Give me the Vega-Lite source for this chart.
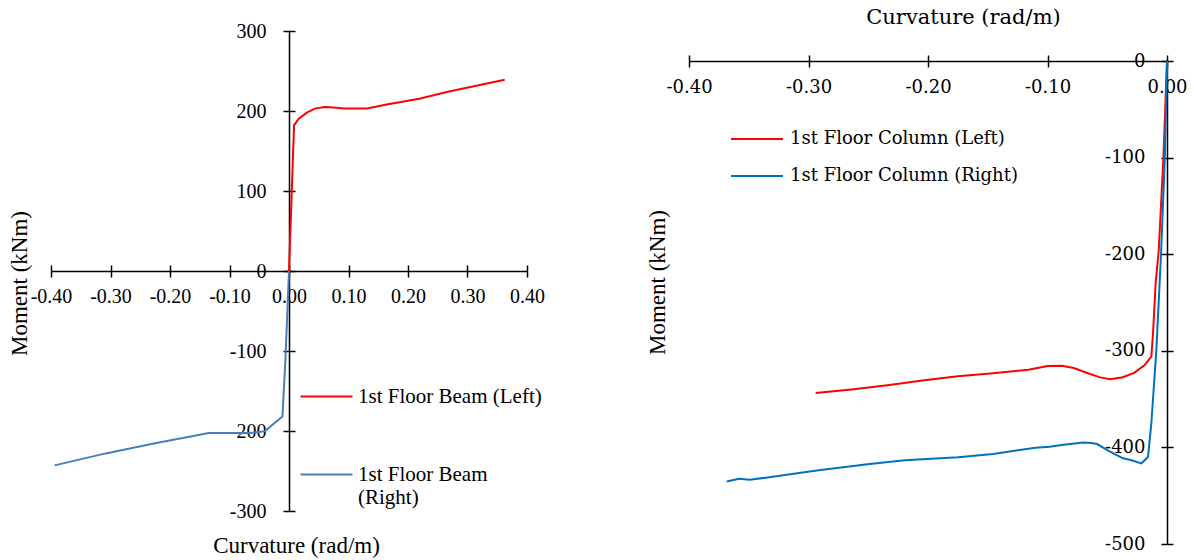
{
  "$schema": "https://vega.github.io/schema/vega-lite/v6.json",
  "width": 1194,
  "height": 560,
  "autosize": {"type": "fit", "contains": "padding"},
  "padding": 0,
  "background": "white",
  "config": {
    "view": {"stroke": null},
    "axis": {"grid": false, "domainColor": "black", "tickColor": "black", "labelColor": "black", "titleColor": "black", "domainWidth": 1.5, "tickWidth": 1.5, "labelFlush": false, "labelOverlap": false, "titleFontWeight": "normal", "titlePadding": 0}
  },
  "datasets": {
    "left": [
      {"series": "1st Floor Beam (Left)", "i": 0, "curvature": 0, "moment": 0},
      {"series": "1st Floor Beam (Left)", "i": 1, "curvature": 0.0085, "moment": 182},
      {"series": "1st Floor Beam (Left)", "i": 2, "curvature": 0.016, "moment": 190},
      {"series": "1st Floor Beam (Left)", "i": 3, "curvature": 0.03, "moment": 198},
      {"series": "1st Floor Beam (Left)", "i": 4, "curvature": 0.0435, "moment": 203},
      {"series": "1st Floor Beam (Left)", "i": 5, "curvature": 0.059, "moment": 205},
      {"series": "1st Floor Beam (Left)", "i": 6, "curvature": 0.075, "moment": 204.5},
      {"series": "1st Floor Beam (Left)", "i": 7, "curvature": 0.092, "moment": 203},
      {"series": "1st Floor Beam (Left)", "i": 8, "curvature": 0.131, "moment": 203},
      {"series": "1st Floor Beam (Left)", "i": 9, "curvature": 0.164, "moment": 208},
      {"series": "1st Floor Beam (Left)", "i": 10, "curvature": 0.219, "moment": 215.4},
      {"series": "1st Floor Beam (Left)", "i": 11, "curvature": 0.267, "moment": 224},
      {"series": "1st Floor Beam (Left)", "i": 12, "curvature": 0.3625, "moment": 239},
      {"series": "1st Floor Beam (Right)", "i": 0, "curvature": 0, "moment": 0},
      {"series": "1st Floor Beam (Right)", "i": 1, "curvature": -0.006, "moment": -110},
      {"series": "1st Floor Beam (Right)", "i": 2, "curvature": -0.011, "moment": -182},
      {"series": "1st Floor Beam (Right)", "i": 3, "curvature": -0.041, "moment": -200.4},
      {"series": "1st Floor Beam (Right)", "i": 4, "curvature": -0.065, "moment": -202.5},
      {"series": "1st Floor Beam (Right)", "i": 5, "curvature": -0.135, "moment": -202.5},
      {"series": "1st Floor Beam (Right)", "i": 6, "curvature": -0.15, "moment": -204.6},
      {"series": "1st Floor Beam (Right)", "i": 7, "curvature": -0.223, "moment": -215},
      {"series": "1st Floor Beam (Right)", "i": 8, "curvature": -0.308, "moment": -228},
      {"series": "1st Floor Beam (Right)", "i": 9, "curvature": -0.394, "moment": -243}
    ],
    "right": [
      {"series": "1st Floor Column (Left)", "i": 0, "curvature": 0, "moment": 0},
      {"series": "1st Floor Column (Left)", "i": 1, "curvature": -0.003, "moment": -100},
      {"series": "1st Floor Column (Left)", "i": 2, "curvature": -0.0069, "moment": -196},
      {"series": "1st Floor Column (Left)", "i": 3, "curvature": -0.0095, "moment": -230},
      {"series": "1st Floor Column (Left)", "i": 4, "curvature": -0.0117, "moment": -282},
      {"series": "1st Floor Column (Left)", "i": 5, "curvature": -0.0131, "moment": -306},
      {"series": "1st Floor Column (Left)", "i": 6, "curvature": -0.0187, "moment": -314.7},
      {"series": "1st Floor Column (Left)", "i": 7, "curvature": -0.0271, "moment": -322.6},
      {"series": "1st Floor Column (Left)", "i": 8, "curvature": -0.037, "moment": -327.4},
      {"series": "1st Floor Column (Left)", "i": 9, "curvature": -0.0474, "moment": -329.5},
      {"series": "1st Floor Column (Left)", "i": 10, "curvature": -0.056, "moment": -327.5},
      {"series": "1st Floor Column (Left)", "i": 11, "curvature": -0.0644, "moment": -324},
      {"series": "1st Floor Column (Left)", "i": 12, "curvature": -0.078, "moment": -317.8},
      {"series": "1st Floor Column (Left)", "i": 13, "curvature": -0.088, "moment": -315.4},
      {"series": "1st Floor Column (Left)", "i": 14, "curvature": -0.0998, "moment": -315.8},
      {"series": "1st Floor Column (Left)", "i": 15, "curvature": -0.116, "moment": -319.5},
      {"series": "1st Floor Column (Left)", "i": 16, "curvature": -0.1455, "moment": -323.3},
      {"series": "1st Floor Column (Left)", "i": 17, "curvature": -0.175, "moment": -326.4},
      {"series": "1st Floor Column (Left)", "i": 18, "curvature": -0.2046, "moment": -330.8},
      {"series": "1st Floor Column (Left)", "i": 19, "curvature": -0.234, "moment": -335.6},
      {"series": "1st Floor Column (Left)", "i": 20, "curvature": -0.264, "moment": -340},
      {"series": "1st Floor Column (Left)", "i": 21, "curvature": -0.294, "moment": -343.8},
      {"series": "1st Floor Column (Right)", "i": 0, "curvature": 0, "moment": 0},
      {"series": "1st Floor Column (Right)", "i": 1, "curvature": -0.0018, "moment": -100},
      {"series": "1st Floor Column (Right)", "i": 2, "curvature": -0.005, "moment": -200},
      {"series": "1st Floor Column (Right)", "i": 3, "curvature": -0.0089, "moment": -299},
      {"series": "1st Floor Column (Right)", "i": 4, "curvature": -0.0131, "moment": -375},
      {"series": "1st Floor Column (Right)", "i": 5, "curvature": -0.0159, "moment": -410},
      {"series": "1st Floor Column (Right)", "i": 6, "curvature": -0.0214, "moment": -416.5},
      {"series": "1st Floor Column (Right)", "i": 7, "curvature": -0.0304, "moment": -413},
      {"series": "1st Floor Column (Right)", "i": 8, "curvature": -0.0368, "moment": -411.3},
      {"series": "1st Floor Column (Right)", "i": 9, "curvature": -0.0481, "moment": -404},
      {"series": "1st Floor Column (Right)", "i": 10, "curvature": -0.0585, "moment": -396.5},
      {"series": "1st Floor Column (Right)", "i": 11, "curvature": -0.0633, "moment": -395.5},
      {"series": "1st Floor Column (Right)", "i": 12, "curvature": -0.0703, "moment": -394.9},
      {"series": "1st Floor Column (Right)", "i": 13, "curvature": -0.0865, "moment": -397.3},
      {"series": "1st Floor Column (Right)", "i": 14, "curvature": -0.0983, "moment": -399.3},
      {"series": "1st Floor Column (Right)", "i": 15, "curvature": -0.11, "moment": -400.3},
      {"series": "1st Floor Column (Right)", "i": 16, "curvature": -0.1455, "moment": -406.8},
      {"series": "1st Floor Column (Right)", "i": 17, "curvature": -0.175, "moment": -410.3},
      {"series": "1st Floor Column (Right)", "i": 18, "curvature": -0.2193, "moment": -413.4},
      {"series": "1st Floor Column (Right)", "i": 19, "curvature": -0.2489, "moment": -417.1},
      {"series": "1st Floor Column (Right)", "i": 20, "curvature": -0.2931, "moment": -424},
      {"series": "1st Floor Column (Right)", "i": 21, "curvature": -0.3492, "moment": -433.6},
      {"series": "1st Floor Column (Right)", "i": 22, "curvature": -0.3581, "moment": -432.5},
      {"series": "1st Floor Column (Right)", "i": 23, "curvature": -0.3684, "moment": -435.3}
    ]
  },
  "layer": [
    {
      "data": {"name": "left"},
      "mark": {"type": "line", "strokeWidth": 2},
      "encoding": {
        "x": {
          "field": "curvature", "type": "quantitative",
          "scale": {"domain": [-0.4, 0.4], "range": [51, 527], "nice": false, "zero": false},
          "axis": {"orient": "bottom", "offset": -289, "values": [-0.4, -0.3, -0.2, -0.1, 0, 0.1, 0.2, 0.3, 0.4],
            "labelExpr": "replace(format(datum.value, '.2f'), '\u2212', '-')",
            "tickSize": 6, "labelPadding": 9, "labelFont": "Liberation Serif", "labelFontSize": 20,
            "title": "Curvature (rad/m)", "titleFont": "Liberation Serif", "titleFontSize": 23,
            "titleX": 296, "titleY": 274, "titleBaseline": "middle", "titleAlign": "center"}
        },
        "y": {
          "field": "moment", "type": "quantitative",
          "scale": {"domain": [-300, 300], "range": [511, 31], "nice": false, "zero": false},
          "axis": {"orient": "left", "offset": -289, "values": [-300, -200, -100, 0, 100, 200, 300],
            "labelExpr": "replace(format(datum.value, 'd'), '\u2212', '-')",
            "tickSize": 6, "labelPadding": 17, "labelFont": "Liberation Serif", "labelFontSize": 20,
            "title": "Moment (kNm)", "titleFont": "Liberation Serif", "titleFontSize": 23,
            "titleX": -270, "titleY": 283, "titleAngle": -90, "titleBaseline": "middle", "titleAlign": "center"}
        },
        "color": {
          "field": "series", "type": "nominal",
          "scale": {"domain": ["1st Floor Beam (Left)", "1st Floor Beam (Right)"], "range": ["#FF0000", "#4A7EBB"]},
          "legend": {"orient": "none", "legendX": 316, "legendY": 386, "title": null, "padding": 0,
            "symbolType": "M-5.2,0H5.2", "symbolSize": 100, "symbolStrokeWidth": 2,
            "labelFont": "Liberation Serif", "labelFontSize": 21, "labelColor": "black", "labelOffset": 21, "labelLimit": 400,
            "rowPadding": 56,
            "labelExpr": "datum.label == '1st Floor Beam (Right)' ? ['1st Floor Beam', '(Right)'] : datum.label"}
        },
        "order": {"field": "i", "type": "quantitative"}
      }
    },
    {
      "data": {"name": "left"},
      "mark": {"type": "point", "opacity": 0},
      "encoding": {
        "x": {
          "field": "curvature", "type": "quantitative",
          "scale": {"domain": [-0.4, 0.4], "range": [51, 527], "nice": false, "zero": false},
          "axis": {"orient": "top", "offset": -271, "values": [-0.4, -0.3, -0.2, -0.1, 0, 0.1, 0.2, 0.3, 0.4],
            "tickSize": 6, "labels": false, "domain": false, "title": null}
        },
        "y": {
          "field": "moment", "type": "quantitative",
          "scale": {"domain": [-300, 300], "range": [511, 31], "nice": false, "zero": false},
          "axis": {"orient": "right", "offset": -905, "values": [-300, -200, -100, 0, 100, 200, 300],
            "tickSize": 6, "labels": false, "domain": false, "title": null}
        }
      }
    },
    {
      "data": {"name": "right"},
      "mark": {"type": "line", "strokeWidth": 2},
      "encoding": {
        "x": {
          "field": "curvature", "type": "quantitative",
          "scale": {"domain": [-0.4, 0], "range": [689, 1167], "nice": false, "zero": false},
          "axis": {"orient": "top", "offset": -61, "values": [-0.4, -0.3, -0.2, -0.1, 0],
            "tickSize": 6, "labels": false,
            "title": "Curvature (rad/m)", "titleFont": "DejaVu Serif", "titleFontSize": 21,
            "titleX": 963, "titleY": -44, "titleBaseline": "middle", "titleAlign": "center"}
        },
        "y": {
          "field": "moment", "type": "quantitative",
          "scale": {"domain": [-500, 0], "range": [544, 61], "nice": false, "zero": false},
          "axis": {"orient": "left", "offset": -1167, "values": [-500, -400, -300, -200, -100, 0],
            "labelExpr": "replace(format(datum.value, 'd'), '\u2212', '-')",
            "tickSize": 6, "labelPadding": 16, "labelFont": "DejaVu Serif", "labelFontSize": 18,
            "title": "Moment (kNm)", "titleFont": "Liberation Serif", "titleFontSize": 23,
            "titleX": -510, "titleY": 282, "titleAngle": -90, "titleBaseline": "middle", "titleAlign": "center"}
        },
        "color": {
          "field": "series", "type": "nominal",
          "scale": {"domain": ["1st Floor Column (Left)", "1st Floor Column (Right)"], "range": ["#FF0000", "#0070C0"]},
          "legend": {"orient": "none", "legendX": 748, "legendY": 130, "title": null, "padding": 0,
            "symbolType": "M-5.2,0H5.2", "symbolSize": 100, "symbolStrokeWidth": 2,
            "labelFont": "DejaVu Serif", "labelFontSize": 18, "labelColor": "black", "labelOffset": 24, "labelLimit": 400,
            "rowPadding": 19}
        },
        "order": {"field": "i", "type": "quantitative"}
      }
    },
    {
      "data": {"name": "right"},
      "mark": {"type": "point", "opacity": 0},
      "encoding": {
        "x": {
          "field": "curvature", "type": "quantitative",
          "scale": {"domain": [-0.4, 0], "range": [689, 1167], "nice": false, "zero": false},
          "axis": {"orient": "bottom", "offset": -499, "values": [-0.4, -0.3, -0.2, -0.1, 0],
            "labelExpr": "replace(format(datum.value, '.2f'), '\u2212', '-')",
            "tickSize": 6, "labelPadding": 11, "labelFont": "DejaVu Serif", "labelFontSize": 18,
            "domain": false, "title": null}
        },
        "y": {
          "field": "moment", "type": "quantitative",
          "scale": {"domain": [-500, 0], "range": [544, 61], "nice": false, "zero": false},
          "axis": {"orient": "right", "offset": -27, "values": [-500, -400, -300, -200, -100, 0],
            "tickSize": 6, "labels": false, "domain": false, "title": null}
        }
      }
    }
  ],
  "resolve": {
    "scale": {"x": "independent", "y": "independent", "color": "independent"},
    "axis": {"x": "independent", "y": "independent"},
    "legend": {"color": "independent"}
  }
}
